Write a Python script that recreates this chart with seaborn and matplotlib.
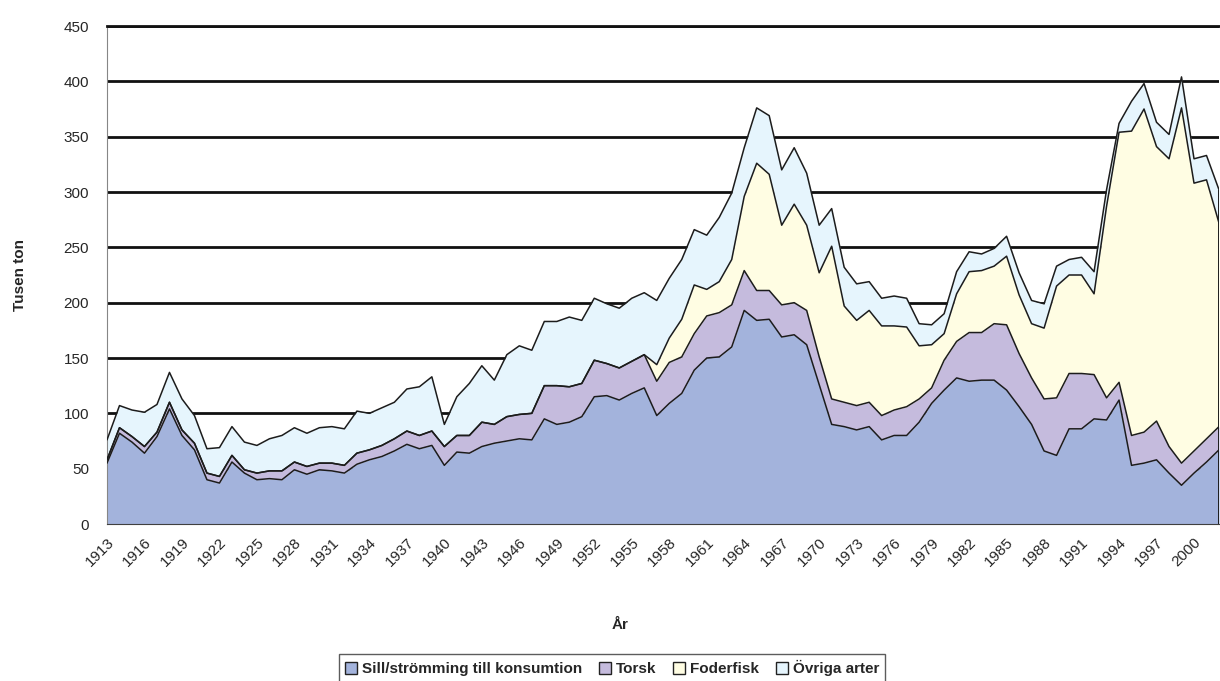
import matplotlib
matplotlib.use("Agg")
import matplotlib.pyplot as plt
import matplotlib.patches as mpatches
import pandas as pd
import seaborn as sns

# Fångst per år, tusen ton (avläst ur originaldiagrammet)
years = list(range(1913, 2003))

sill = [55, 82, 74, 64, 79, 104, 80, 67, 40, 37,
        56, 46, 40, 41, 40, 49, 45, 49, 48, 46,
        54, 58, 61, 66, 72, 68, 71, 53, 65, 64,
        70, 73, 75, 77, 76, 95, 90, 92, 97, 115,
        116, 112, 118, 123, 98, 109, 118, 139, 150, 151,
        160, 193, 184, 185, 169, 171, 162, 126, 90, 88,
        85, 88, 76, 80, 80, 92, 109, 121, 132, 129,
        130, 130, 121, 106, 90, 66, 62, 86, 86, 95,
        94, 112, 53, 55, 58, 46, 35, 46, 56, 67]

torsk = [3, 5, 5, 6, 4, 6, 5, 6, 6, 6,
         6, 3, 6, 7, 8, 7, 7, 6, 7, 7,
         10, 9, 10, 11, 12, 12, 13, 17, 15, 16,
         22, 17, 22, 22, 24, 30, 35, 32, 30, 33,
         29, 29, 29, 30, 31, 37, 33, 33, 38, 40,
         38, 36, 27, 26, 29, 29, 31, 25, 23, 22,
         22, 22, 22, 23, 26, 21, 14, 27, 33, 44,
         43, 51, 59, 48, 42, 47, 52, 50, 50, 40,
         20, 16, 27, 28, 35, 24, 20, 20, 21, 21]

foder = [0] * 44 + [
         15, 22, 34, 44, 24, 28,
         41, 67, 115, 105, 72, 89, 77, 76, 138, 87,
         77, 83, 81, 76, 72, 48, 39, 24, 43, 55,
         56, 52, 62, 53, 49, 64, 101, 89, 89, 73,
         173, 226, 275, 292, 248, 260, 321, 242, 234, 184]

ovriga = [18, 20, 24, 31, 25, 27, 28, 25, 22, 26,
          26, 25, 25, 29, 32, 31, 30, 32, 33, 33,
          38, 33, 34, 33, 38, 44, 49, 20, 35, 47,
          51, 40, 56, 62, 57, 58, 58, 63, 57, 56,
          54, 54, 57, 56, 58, 54, 54, 50, 49, 58,
          60, 44, 50, 53, 50, 51, 47, 43, 34, 35,
          33, 26, 25, 27, 26, 20, 18, 18, 20, 18,
          15, 16, 18, 20, 21, 22, 18, 14, 16, 20,
          15, 8, 27, 23, 22, 22, 28, 22, 22, 30]

names = ["Sill/strömming till konsumtion", "Torsk", "Foderfisk", "Övriga arter"]
colors = ["#A3B3DC", "#C5BBDD", "#FFFDE3", "#E6F5FD"]
y_ticks = list(range(0, 451, 50))
x_labels = [str(y) if (y - 1913) % 3 == 0 else "" for y in years]

sns.set_style("white")
plt.rcParams["font.family"] = ["Liberation Sans", "DejaVu Sans"]

df = pd.DataFrame({"År": years, names[0]: sill, names[1]: torsk,
                   names[2]: foder, names[3]: ovriga})
cum = df[names].cumsum(axis=1)

fig = plt.figure(figsize=(12.2, 6.81), dpi=100)
ax = fig.add_axes([107 / 1220, 1 - 524 / 681, 1112 / 1220, 498 / 681])

ax.stackplot(df["År"], [df[n] for n in names], colors=colors,
             linewidth=0, zorder=2)
# konturlinjer mellan lagren
for n in names:
    sns.lineplot(x=df["År"], y=cum[n], ax=ax, color="#1c1c1c",
                 linewidth=1.1, zorder=3, legend=False)
ax.vlines(years[-1], 0, cum[names[-1]].iloc[-1], color="#1c1c1c",
          linewidth=1.4, zorder=3)

ax.set_xlim(years[0], years[-1])
ax.set_ylim(0, 450)
ax.set_yticks(y_ticks)
ax.set_xticks(years)
ax.set_xticklabels(x_labels, rotation=45, ha="right", va="top",
                   rotation_mode="anchor", fontsize=11)
ax.tick_params(axis="y", labelsize=11, direction="out", length=4,
               color="#7f7f7f", width=1, pad=9)
ax.tick_params(axis="x", direction="out", length=4, color="#7f7f7f",
               width=1, pad=4)

ax.yaxis.grid(True, color="#111111", linewidth=2.0)
ax.xaxis.grid(False)
ax.set_axisbelow(True)

ax.spines["right"].set_visible(False)
ax.spines["top"].set_color("#111111")
ax.spines["top"].set_linewidth(2.0)
ax.spines["left"].set_color("#868686")
ax.spines["bottom"].set_color("#404040")
ax.spines["bottom"].set_zorder(4)

ax.set_ylabel("Tusen ton", fontsize=11, fontweight="bold")
ax.yaxis.set_label_coords(-(107 - 20) / 1112, 0.5)
ax.set_xlabel("År", fontsize=11, fontweight="bold")
ax.xaxis.set_label_coords((620 - 107) / 1112, -(625 - 524) / 498)
ax.xaxis.label.set_va("center")
ax.yaxis.label.set_va("center")

handles = [mpatches.Patch(facecolor=c, edgecolor="#222222", linewidth=1)
           for c in colors]
leg = fig.legend(handles, names, loc="upper center",
                 bbox_to_anchor=(612 / 1220, 1 - 654 / 681), ncol=4,
                 frameon=True, fancybox=False, edgecolor="#333333",
                 prop={"weight": "bold", "size": 11},
                 handlelength=0.8, handleheight=0.8, handletextpad=0.3,
                 columnspacing=1.1, borderpad=0.4, borderaxespad=0)
leg.get_frame().set_linewidth(1.0)

fig.savefig("out.png", dpi=100)
